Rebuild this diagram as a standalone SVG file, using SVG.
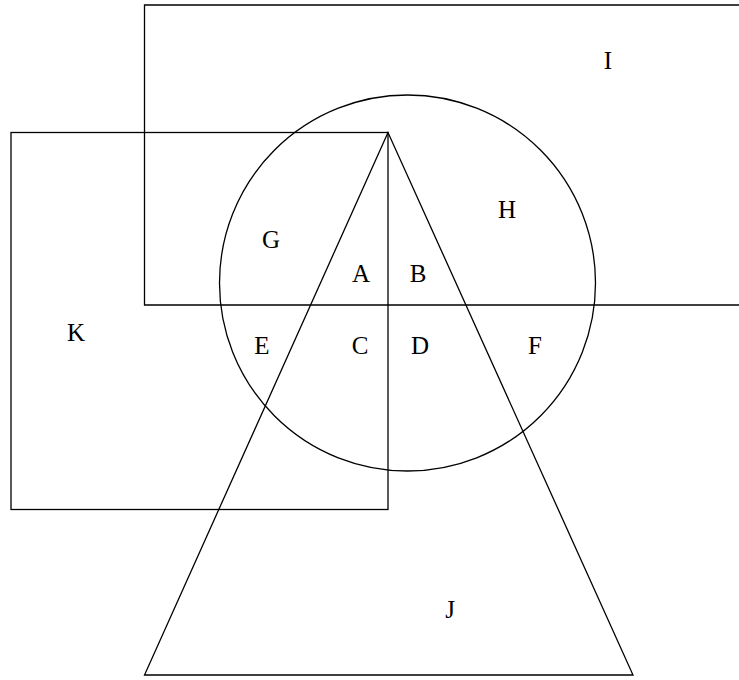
<svg xmlns="http://www.w3.org/2000/svg" width="739" height="680" viewBox="0 0 739 680">
<style>
.s{fill:none;stroke:#000;stroke-width:1.3}
text{font-family:"Liberation Serif","Times New Roman",serif;font-size:25px;text-anchor:middle;fill:#000}
</style>
<rect width="739" height="680" fill="#fff"/>
<g id="connectors">
</g>
<g id="I"><path class="s" d="M740,5 H144.5 V305 H740"/><text x="608" y="69">I</text></g>
<g id="K"><rect class="s" x="11" y="132.5" width="377" height="377"/><text x="76" y="341">K</text></g>
<g id="circle"><circle class="s" cx="407.5" cy="283" r="188"/></g>
<g id="J"><polygon class="s" points="388,132.5 144.5,675 633,675"/><text x="450" y="618">J</text></g>
<g id="labels">
<text x="271" y="248">G</text>
<text x="507" y="218">H</text>
<text x="361" y="282">A</text>
<text x="418" y="282">B</text>
<text x="262" y="354">E</text>
<text x="360" y="354">C</text>
<text x="420" y="354">D</text>
<text x="535" y="354">F</text>
</g>
</svg>
